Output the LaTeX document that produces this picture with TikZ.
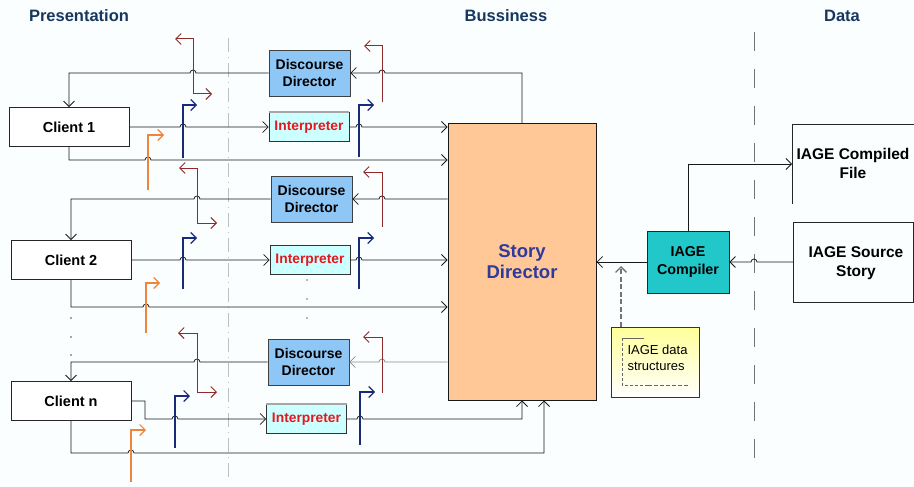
\documentclass[tikz,border=0pt]{standalone}
\usepackage{fontspec}
\setmainfont{Liberation Sans}
\usetikzlibrary{arrows.meta}
\definecolor{bg}{HTML}{FAFEFE}
\definecolor{header}{HTML}{17375E}
\definecolor{ddblue}{HTML}{8EC6F6}
\definecolor{interpfill}{HTML}{CCFFFF}
\definecolor{interptext}{HTML}{E8161C}
\definecolor{sdfill}{HTML}{FFC896}
\definecolor{sdtext}{HTML}{2E3A9C}
\definecolor{compfill}{HTML}{22C7C9}
\definecolor{noteyellow}{HTML}{FFFF99}
\definecolor{flagbrown}{HTML}{8E2A2A}
\definecolor{flagblue}{HTML}{1A2A7A}
\definecolor{flagorange}{HTML}{F0843C}
\tikzset{
  hdr/.style={text=header, font=\bfseries\fontsize{16.5}{18}\selectfont},
  client/.style={draw=black!85, fill=white, line width=0.9pt, minimum width=120pt, minimum height=39pt, inner sep=0pt, font=\bfseries\fontsize{14.5}{15}\selectfont},
  ddbox/.style={draw=black!75, fill=ddblue, line width=0.8pt, minimum width=81pt, minimum height=46pt, inner sep=0pt, align=center, font=\bfseries\fontsize{14}{17}\selectfont},
  interp/.style={draw=black!80, fill=interpfill, line width=0.8pt, minimum width=80pt, minimum height=29pt, inner sep=0pt, text=interptext, font=\bfseries\fontsize{13.8}{15}\selectfont},
  conn/.style={draw=black!90, line width=0.75pt},
  lightconn/.style={draw=black!45},
  bflag/.style={draw=flagbrown, line width=1pt},
  uflag/.style={draw=flagblue, line width=1.1pt},
  oflag/.style={draw=flagorange, line width=1.1pt},
  sep/.style={line width=0.8pt}
}
\begin{document}
\begin{tikzpicture}[x=1pt, y=-1pt, >={Straight Barb[length=5.5pt,width=11pt]}]
\useasboundingbox[fill=bg] (0,0) rectangle (914,487);

% headers
\node[hdr] (hp) at (79,16) {Presentation};
\node[hdr] (hb) at (506,16) {Bussiness};
\node[hdr] (hd) at (842,16) {Data};

% separators
\draw[sep, draw=black!25, dash pattern=on 14pt off 5pt on 1pt off 5pt] (228,38) -- (228,480);
\draw[sep, draw=black!55, dash pattern=on 19pt off 18pt] (754,32) -- (754,463);

% main boxes
\node[draw=black!90, fill=sdfill, line width=1pt, minimum width=148pt, minimum height=276pt, inner sep=0pt, align=center, text=sdtext, font=\bfseries\fontsize{18.5}{21}\selectfont] (SD) at (522,262) {Story\\Director};

\node[client] (C1) at (69,127) {Client 1};
\node[client] (C2) at (71,260) {Client 2};
\node[client] (Cn) at (71,401) {Client n};

\node[ddbox] (DD1) at (309.5,73) {Discourse\\Director};
\node[ddbox] (DD2) at (311.5,199) {Discourse\\Director};
\node[ddbox] (DD3) at (308.5,362) {Discourse\\Director};

\node[interp] (I1) at (309,127) {Interpreter};
\node[interp] (I2) at (310,260) {Interpreter};
\node[interp] (In) at (306.5,419) {Interpreter};
\draw[black!35, line width=1.6pt] (I1.north west) -- (I1.north east);
\draw[black!35, line width=1.6pt] (In.north west) -- (In.north east);

\node[draw=black!85, fill=compfill, line width=0.9pt, minimum width=82pt, minimum height=62pt, inner sep=0pt, align=center, font=\bfseries\fontsize{14.3}{18}\selectfont] (Comp) at (688,262) {IAGE\\Compiler};

% data side
\draw[black!85, line width=0.8pt] (914,124) -- (792,124) -- (792,204);
\node[align=center, font=\bfseries\fontsize{15.5}{19}\selectfont] (CF) at (853,163) {IAGE Compiled\\File};
\draw[black!85, line width=0.8pt] (913.5,222) rectangle (793,302);
\node[align=center, font=\bfseries\fontsize{15.5}{19}\selectfont] (SS) at (856,263) {IAGE Source\\Story};
\coordinate (cfin) at (792,164);
\coordinate (src) at (793,262);

% note
\node[draw=black!80, line width=0.9pt, top color=noteyellow, bottom color=white, minimum width=88pt, minimum height=70pt, inner sep=0pt] (Note) at (655,362) {};
\draw[black!60, line width=0.8pt] (644,338) -- (622,338);
\draw[black!60, line width=0.8pt, dash pattern=on 3pt off 2pt] (622,338) -- (622,385) -- (648,385);
\draw[black!60, line width=0.8pt, dash pattern=on 4pt off 2pt] (648,385) -- (690,385);
\node[anchor=west, align=left, font=\fontsize{13}{16}\selectfont] (NT) at (624,358) {IAGE data\\structures};
\coordinate (ds) at (621,266);

% ---- row 1 connectors
\draw[conn,->] (SD.north) -- (522,73) -- (385,73) arc[start angle=0,end angle=180,radius=3pt] -- (DD1.east);
\draw[conn,->] (DD1.west) -- (196,73) arc[start angle=0,end angle=180,radius=3pt] -- (C1.north |- DD1.west) -- (C1.north);
\draw[conn,->] (C1.east) -- (180,127) arc[start angle=180,end angle=0,radius=3pt] -- (I1.west);
\draw[conn,->] (I1.east) -- (356,127) arc[start angle=180,end angle=0,radius=3pt] -- (SD.west |- I1.east);
\draw[conn,->] (C1.south) -- (69,160) -- (145,160) arc[start angle=180,end angle=0,radius=3pt] -- (SD.west |- 0,160);

% ---- row 2 connectors
\draw[conn,->] (SD.west |- DD2.east) -- (385,199) arc[start angle=0,end angle=180,radius=3pt] -- (DD2.east);
\draw[conn,->] (DD2.west) -- (200,199) arc[start angle=0,end angle=180,radius=3pt] -- (C2.north |- DD2.west) -- (C2.north);
\draw[conn,->] (C2.east) -- (180,260) arc[start angle=180,end angle=0,radius=3pt] -- (I2.west);
\draw[conn,->] (I2.east) -- (356,260) arc[start angle=180,end angle=0,radius=3pt] -- (SD.west |- I2.east);
\draw[conn,->] (C2.south) -- (71,307) -- (143,307) arc[start angle=180,end angle=0,radius=3pt] -- (SD.west |- 0,307);

% ---- row n connectors
\draw[conn,lightconn,->] (SD.west |- DD3.east) -- (385,362) arc[start angle=0,end angle=180,radius=3pt] -- (DD3.east);
\draw[conn,->] (DD3.west) -- (200,362) arc[start angle=0,end angle=180,radius=3pt] -- (Cn.north |- DD3.west) -- (Cn.north);
\draw[conn,->] (Cn.east) -- (145,401) -- (145,419) -- (172,419) arc[start angle=180,end angle=0,radius=3pt] -- (In.west);
\draw[conn,->] (In.east) -- (357,419) arc[start angle=180,end angle=0,radius=3pt] -- (SD.south |- 0,419) -- (SD.south);
\draw[conn,->] (Cn.south) -- (71,453) -- (128,453) arc[start angle=180,end angle=0,radius=3pt] -- (544,453) -- (SD.south -| 544,0);

% ---- right side connectors
\draw[conn,->] (Comp.west) -- (SD.east);
\draw[conn,->] (Comp.north) |- (cfin);
\draw[conn,->] (src) -- (757,262) arc[start angle=0,end angle=180,radius=3pt] -- (Comp.east);
\draw[draw=black!55, line width=1.4pt, dash pattern=on 5pt off 2.5pt, ->] (Note.north -| ds) -- (ds);

% ---- flags row 1
\draw[bflag,<->] (175,39) -- (193,39) -- (193,94) -- (212,94);
\draw[bflag,<-] (364,46) -- (382,46) -- (382,102);
\draw[uflag,->] (183,158) -- (183,105) -- (197,105);
\draw[uflag,->] (359,157) -- (359,105) -- (374,105);
\draw[oflag,->] (148,190) -- (148,135) -- (164,135);

% ---- flags row 2
\draw[bflag,<->] (179,168) -- (197,168) -- (197,223) -- (217,223);
\draw[bflag,<-] (363,172) -- (382,172) -- (382,227);
\draw[uflag,->] (183,289) -- (183,238) -- (197,238);
\draw[uflag,->] (359,289) -- (359,238) -- (374,238);
\draw[oflag,->] (146,333) -- (146,283) -- (160,283);

% ---- flags row n
\draw[bflag,<->] (178,333) -- (197,333) -- (197,392) -- (217,392);
\draw[bflag,<-] (363,337) -- (382,337) -- (382,393);
\draw[uflag,->] (175,448) -- (175,396) -- (190,396);
\draw[uflag,->] (360,445) -- (360,392) -- (375,392);
\draw[oflag,->] (131,482) -- (131,430) -- (146,430);

% ---- continuation dots
\foreach \yy in {318,337,355} \fill[black!70] (71,\yy) circle (0.8pt);
\foreach \yy in {280,299,318} \fill[black!55] (307,\yy) circle (0.8pt);
\end{tikzpicture}
\end{document}
